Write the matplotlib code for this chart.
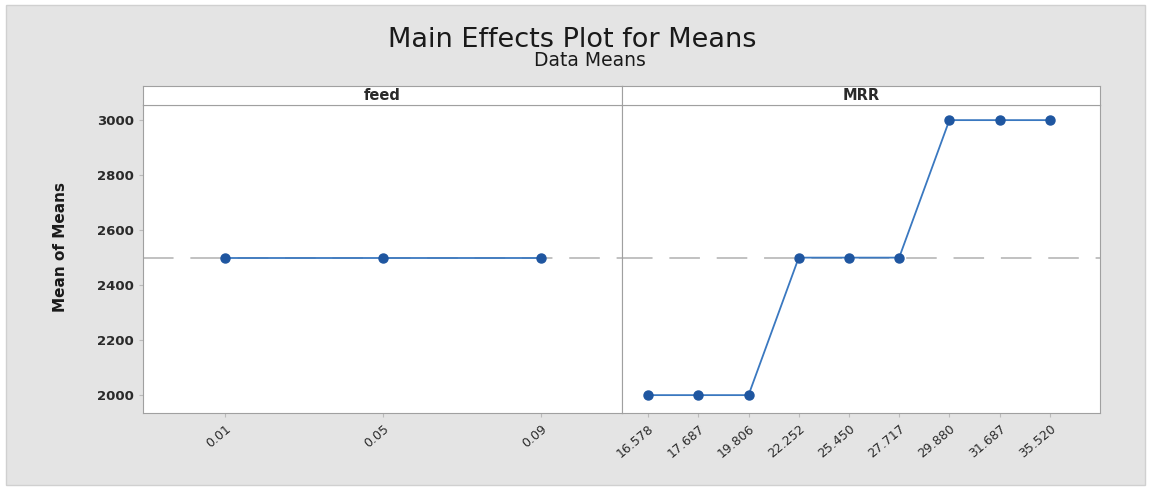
import matplotlib
matplotlib.use("Agg")
import matplotlib.pyplot as plt
import matplotlib.patches as mpatches

# data
feed_levels = ["0.01", "0.05", "0.09"]
feed_means = [2500, 2500, 2500]
mrr_levels = ["16.578", "17.687", "19.806", "22.252", "25.450",
              "27.717", "29.880", "31.687", "35.520"]
mrr_means = [2000, 2000, 2000, 2500, 2500, 2500, 3000, 3000, 3000]
grand_mean = 2500
y_ticks = [2000, 2200, 2400, 2600, 2800, 3000]

W, H = 1151, 490
fig = plt.figure(figsize=(W / 100, H / 100), dpi=100)
fig.patch.set_facecolor("white")

# grey Minitab panel behind everything
fig.patches.append(mpatches.Rectangle((6 / W, 5 / H), 1139 / W, 480 / H,
                                      transform=fig.transFigure,
                                      facecolor="#e4e4e4", edgecolor="#d0d0d0",
                                      lw=1, zorder=-10))

plt.rcParams["font.family"] = ["DejaVu Sans"]

fig.text(572 / W, 1 - 40 / H, "Main Effects Plot for Means",
         ha="center", va="center", fontsize=19.5, color="#1a1a1a")
fig.text(590 / W, 1 - 61 / H, "Data Means",
         ha="center", va="center", fontsize=13.5, color="#1a1a1a")

left, mid, right = 143 / W, 622 / W, 1100 / W
bot, top, strip_top = 1 - 413 / H, 1 - 105 / H, 1 - 86 / H

line_col = "#3a78c0"
mark_col = "#1f56a0"
edge_col = "#a0a0a0"


def panel(x0, x1, levels, means, name, first):
    ax = fig.add_axes([x0, bot, x1 - x0, top - bot])
    xs = list(range(len(levels)))
    ax.axhline(grand_mean, color="#b0b0b0", lw=1.1, ls=(0, (20, 11)), zorder=1)
    ax.plot(xs, means, color=line_col, lw=1.3, marker="o", ms=6.5,
            mfc=mark_col, mec=mark_col, zorder=3)
    ax.set_xticks(xs)
    ax.set_xticklabels(levels, rotation=40, ha="right", rotation_mode="anchor",
                       fontsize=9, color="#2a2a2a")
    ax.set_ylim(1935, 3055)
    ax.set_yticks(y_ticks)
    for s in ax.spines.values():
        s.set_color(edge_col)
    ax.tick_params(axis="both", length=3, color="#bbbbbb")
    if first:
        ax.set_yticklabels([str(v) for v in y_ticks], fontsize=9.5,
                           color="#2a2a2a", fontweight="bold")
        ax.set_ylabel("Mean of Means", fontsize=11, fontweight="bold",
                      color="#1a1a1a")
        ax.yaxis.set_label_coords(-0.157, 0.54)
    else:
        ax.tick_params(axis="y", left=False, labelleft=False)

    strip = fig.add_axes([x0, top, x1 - x0, strip_top - top])
    strip.set_xticks([])
    strip.set_yticks([])
    for s in strip.spines.values():
        s.set_color(edge_col)
    strip.text(0.5, 0.5, name, ha="center", va="center", fontsize=10.5,
               fontweight="bold", color="#2a2a2a", transform=strip.transAxes)
    return ax


ax1 = panel(left, mid, feed_levels, feed_means, "feed", True)
ax1.set_xlim(-0.52, len(feed_levels) - 1 + 0.51)
ax2 = panel(mid, right, mrr_levels, mrr_means, "MRR", False)
ax2.set_xlim(-0.52, len(mrr_levels) - 1 + 1.0)

fig.savefig("out.png", dpi=100)
